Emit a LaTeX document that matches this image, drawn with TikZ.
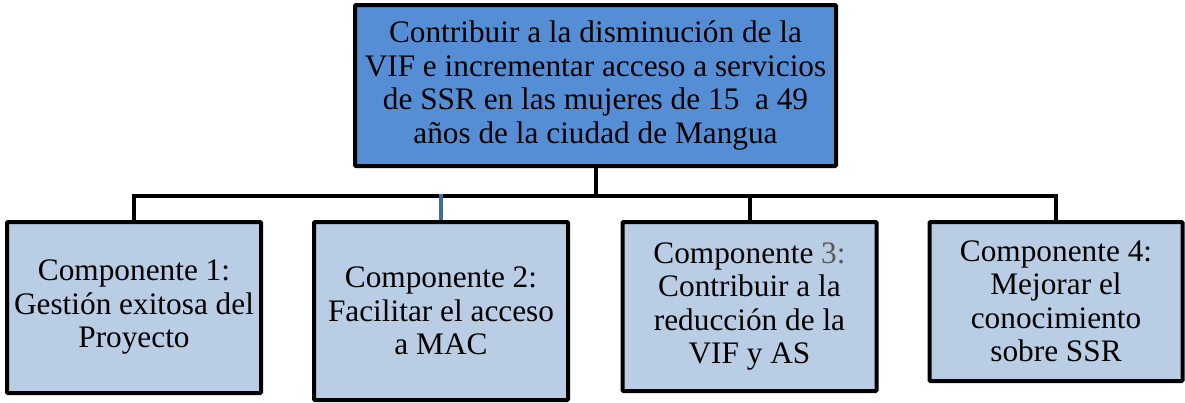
\documentclass[tikz,border=0pt]{standalone}
\usepackage{fontspec}
\setmainfont{Liberation Serif}
\definecolor{topblue}{RGB}{85,142,213}
\definecolor{lightblue}{RGB}{185,205,229}
\definecolor{linkblue}{RGB}{66,106,160}
\definecolor{greytxt}{RGB}{89,89,89}
\tikzset{
  goalbox/.style={draw=black, line width=4pt, fill=topblue, inner sep=0pt,
    align=center, font=\fontsize{31.3}{33.5}\selectfont, rounded corners=1pt},
  compbox/.style={draw=black, line width=4pt, fill=lightblue, inner sep=0pt,
    align=center, font=\fontsize{31.3}{33.5}\selectfont, rounded corners=1pt},
  link/.style={draw=black, line width=4pt},
  bluelink/.style={draw=linkblue, line width=3.5pt}
}
\begin{document}
\begin{tikzpicture}[x=1pt,y=-1pt]
\useasboundingbox (0,0) rectangle (1185,402);
\node[goalbox, minimum width=481pt, minimum height=161pt] (goal) at (595.5,85.5)
  {Contribuir a la disminución de la\\VIF e incrementar acceso a servicios\\de SSR en las mujeres de 15~~a 49\\años de la ciudad de Mangua};
\node[compbox, minimum width=254pt, minimum height=171pt] (c1) at (134,307.5)
  {Componente 1:\\Gestión exitosa del\\Proyecto};
\node[compbox, minimum width=254pt, minimum height=178pt] (c2) at (441,311)
  {Componente 2:\\Facilitar el acceso\\a MAC};
\node[compbox, minimum width=254pt, minimum height=169pt] (c3) at (749.5,306.5)
  {Componente {\color{greytxt}3:}\\Contribuir a la\\reducción de la\\VIF y AS};
\node[compbox, minimum width=253pt, minimum height=159pt] (c4) at (1056,301.5)
  {Componente 4:\\Mejorar el\\conocimiento\\sobre SSR};
\draw[link] (goal.south) -- ++(0,27.5) -| (c1.north);
\draw[link] (goal.south) -- ++(0,27.5) -| (c4.north);
\draw[link] (goal.south) -- ++(0,27.5) -| (c3.north);
\draw[bluelink] (c2.north) -- ++(0,-26);
\end{tikzpicture}
\end{document}
